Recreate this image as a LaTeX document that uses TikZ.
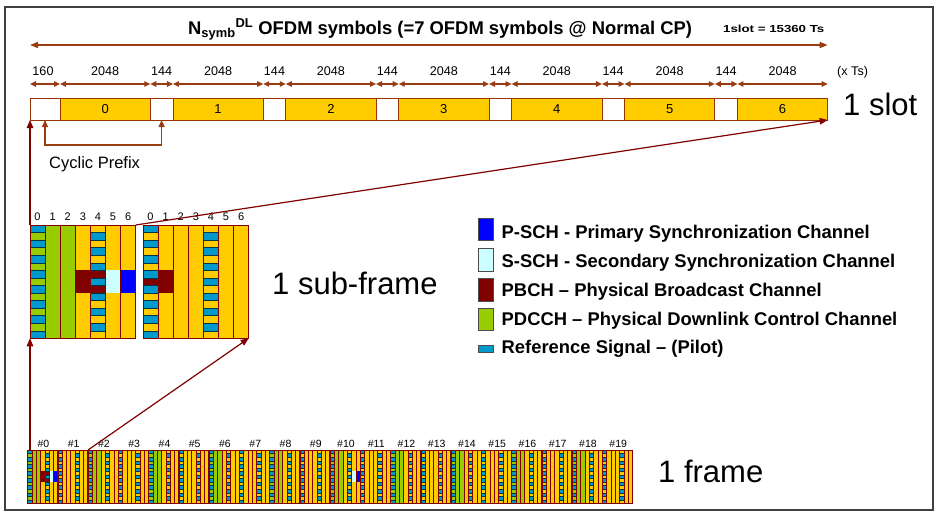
\documentclass[tikz,border=0pt]{standalone}
\usepackage{fontspec}
\setmainfont{Liberation Sans}
\usepackage{graphicx}
\usetikzlibrary{arrows.meta}
\definecolor{brn}{RGB}{153,60,20}
\definecolor{slotline}{RGB}{153,51,0}
\definecolor{ylw}{RGB}{255,204,0}
\definecolor{grn}{RGB}{153,204,0}
\definecolor{rsb}{RGB}{0,153,204}
\definecolor{pbchc}{RGB}{128,0,0}
\definecolor{sschc}{RGB}{204,255,255}
\definecolor{pschc}{RGB}{0,0,255}
\definecolor{gridc}{RGB}{128,0,0}
\definecolor{connc}{RGB}{128,0,0}
\newcommand\fs[1]{\fontsize{#1}{#1}\selectfont}
% x0, y0, column width, row height, green(1/0), special(0 none,1 pbch+sync,2 pbch,3 sync), line width
\newcommand\lteslot[7]{%
\begin{scope}[shift={(#1,#2)}]
\pgfmathsetmacro\lcw{#3}\pgfmathsetmacro\lrh{#4}%
\pgfmathsetmacro\lht{15*#4}\pgfmathsetmacro\lwd{7*#3}%
\fill[ylw] (0,0) rectangle (\lwd,\lht);
\ifnum#5=1 \fill[grn] (0,0) rectangle (3*\lcw,\lht);\fi
\ifnum#6=1 \fill[pbchc] (3*\lcw,6*\lrh) rectangle (5*\lcw,9*\lrh);
 \fill[sschc] (5*\lcw,6*\lrh) rectangle (6*\lcw,9*\lrh);
 \fill[pschc] (6*\lcw,6*\lrh) rectangle (7*\lcw,9*\lrh);\fi
\ifnum#6=2 \fill[pbchc] (0,6*\lrh) rectangle (2*\lcw,9*\lrh);\fi
\ifnum#6=3 \fill[sschc] (5*\lcw,6*\lrh) rectangle (6*\lcw,9*\lrh);
 \fill[pschc] (6*\lcw,6*\lrh) rectangle (7*\lcw,9*\lrh);\fi
\foreach \r in {0,2,...,14} \filldraw[rsstripe, line width=0.5*#7] (0,\r*\lrh) rectangle (\lcw,\r*\lrh+\lrh);
\foreach \r in {1,3,...,13} \filldraw[rsstripe, line width=0.5*#7] (4*\lcw,\r*\lrh) rectangle (5*\lcw,\r*\lrh+\lrh);
\foreach \c in {1,...,6} \draw[gridc, line width=#7] (\c*\lcw,0) -- (\c*\lcw,\lht);
\draw[gridc, line width=#7] (0,0) rectangle (\lwd,\lht);
\end{scope}}
\begin{document}
\begin{tikzpicture}[x=1pt,y=-1pt,
  rsstripe/.style={fill=rsb, draw=black!65!rsb},
  symbox/.style={draw=slotline, fill=ylw, line width=0.8pt, minimum height=22pt, inner sep=0pt, outer sep=0pt, font=\fs{13}},
  cpbox/.style={draw=slotline, fill=white, line width=0.8pt, minimum height=22pt, inner sep=0pt, outer sep=0pt},
  numlbl/.style={font=\fs{12.6}, inner sep=0pt, anchor=base},
  segarr/.style={brn, line width=1.2pt, {Triangle[length=6pt,width=5.5pt]}-{Triangle[length=6pt,width=5.5pt]}},
  bigarr/.style={brn, line width=1.5pt, {Triangle[length=8pt,width=6pt]}-{Triangle[length=8pt,width=6pt]}},
  conn/.style={connc, line width=1.2pt, -{Triangle[length=8pt,width=6.5pt]}},
  big/.style={font=\fs{31}, inner sep=0pt, anchor=base west},
  legtxt/.style={font=\bfseries\fs{18.4}, inner sep=0pt, anchor=base west},
  legbox/.style={draw=black!70, line width=0.6pt, inner sep=0pt, outer sep=0pt, minimum width=15pt, anchor=north west},
  area/.style={inner sep=0pt, outer sep=0pt, anchor=north west}]
\useasboundingbox (0,0) rectangle (938,520);
\fill[white] (0,0) rectangle (938,520);
\draw[line width=2pt, black!75] (5,7) rectangle (933,510);

% ---------- title ----------
\node[font=\bfseries\fs{18.4}, inner sep=0pt, anchor=base west] (title) at (188,34)
  {N\textsubscript{symb}\textsuperscript{DL} OFDM symbols (=7 OFDM symbols @ Normal CP)};
\node[inner sep=0pt, anchor=base west] (slotlen) at (723,32)
  {\scalebox{1.3}[1]{\bfseries\fs{10.2}1slot = 15360 Ts}};

% ---------- slot bar ----------
\foreach \i in {0,...,6}{
  \pgfmathsetmacro\xs{60+\i*112.9}
  \node[symbox, minimum width=90.3pt, anchor=north west] (sym\i) at (\xs,98) {\i};
  \node[numlbl] (lsym\i) at ([yshift=23pt]sym\i.north) {2048};
  \draw[segarr] ([yshift=14pt]sym\i.north west) -- ([yshift=14pt]sym\i.north east);
}
\node[cpbox, minimum width=30pt, anchor=north east] (cp0) at (sym0.north west) {};
\node[numlbl] (lcp0) at ([xshift=-2pt,yshift=23pt]cp0.north) {160};
\draw[segarr] ([yshift=14pt]cp0.north west) -- ([yshift=14pt]cp0.north east);
\foreach \i in {1,...,6}{
  \node[cpbox, minimum width=22.6pt, anchor=north east] (cp\i) at (sym\i.north west) {};
  \node[numlbl] (lcp\i) at ([yshift=23pt]cp\i.north) {144};
  \draw[segarr] ([yshift=14pt]cp\i.north west) -- ([yshift=14pt]cp\i.north east);
}
\node[area, minimum width=797.7pt, minimum height=22pt] (slotbar) at (30,98) {};
\node[numlbl, anchor=base west] (units) at (837,75) {(x Ts)};
\draw[bigarr] ([yshift=53pt]cp0.north west) -- ([yshift=53pt]sym6.north east);
\node[big] (lslot) at (843,115) {1 slot};

% cyclic prefix bracket
\draw[brn, line width=1.3pt, {Triangle[length=7pt,width=6pt]}-{Triangle[length=7pt,width=6pt]}]
  (cp0.south) -- ++(0,25) -| (cp1.south);
\node[font=\fs{16.5}, inner sep=0pt, anchor=base west] (cptext) at (49,168) {Cyclic Prefix};

% ---------- sub-frame ----------
\lteslot{30}{225}{15.1}{7.55}{1}{1}{0.8pt}
\lteslot{143}{225}{15.1}{7.55}{0}{2}{0.8pt}
\node[area, minimum width=105.7pt, minimum height=113.25pt] (sfA) at (30,225) {};
\node[area, minimum width=105.7pt, minimum height=113.25pt] (sfB) at (143,225) {};
\foreach \c in {0,...,6}{
  \node[font=\fs{11}, inner sep=0pt, anchor=base] (sfAl\c) at ({30+(\c+0.5)*15.1},220) {\c};
  \node[font=\fs{11}, inner sep=0pt, anchor=base] (sfBl\c) at ({143+(\c+0.5)*15.1},220) {\c};
}
\node[big] (lsub) at (272,294) {1 sub-frame};

% ---------- frame ----------
\foreach \k in {0,...,19}{
  \pgfmathsetmacro\fx{27.5+\k*30.25}
  \pgfmathtruncatemacro\gr{mod(\k+1,2)}
  \pgfmathtruncatemacro\sp{\k==0 ? 1 : (\k==10 ? 3 : 0)}
  \lteslot{\fx}{450}{4.3214}{3.5533}{\gr}{\sp}{0.45pt}
  \node[font=\fs{10.5}, inner sep=0pt, anchor=base] (fl\k) at ({\fx+16},447) {\#\k};
}
\foreach \k in {1,...,19}{
  \draw[gridc, line width=1.1pt] ({27.5+\k*30.25},450) -- ({27.5+\k*30.25},503.3);
}
\draw[gridc, line width=0.9pt] (27.5,450) rectangle (632.5,503.3);
\node[area, minimum width=605pt, minimum height=53.3pt] (frame) at (27.5,450) {};
\coordinate (f2) at ([xshift=60.5pt]frame.north west);
\node[big] (lframe) at (658,482) {1 frame};

% ---------- connectors ----------
\draw[conn] (sfA.north west) -- (slotbar.south west);
\draw[conn] (sfA.north east) -- (slotbar.south east);
\draw[conn] (sfA.south west |- frame.north) -- (sfA.south west);
\draw[conn] (f2) -- (sfB.south east);

% ---------- legend ----------
\node[legbox, fill=pschc, minimum height=22pt] (kp) at (478,218) {};
\node[legtxt] (tp) at (501.5,238) {P-SCH - Primary Synchronization Channel};
\node[legbox, fill=sschc, minimum height=23pt] (ks) at (478,248) {};
\node[legtxt] (ts) at (501.5,267) {S-SCH - Secondary Synchronization Channel};
\node[legbox, fill=pbchc, minimum height=23pt] (kb) at (478,278) {};
\node[legtxt] (tb) at (501.5,296) {PBCH -- Physical Broadcast Channel};
\node[legbox, fill=grn, minimum height=22pt] (kd) at (478,308) {};
\node[legtxt] (td) at (501.5,325) {PDCCH -- Physical Downlink Control Channel};
\node[legbox, fill=rsb, minimum height=7pt] (kr) at (478,345) {};
\node[legtxt] (tr) at (501.5,353) {Reference Signal -- (Pilot)};
\end{tikzpicture}
\end{document}
